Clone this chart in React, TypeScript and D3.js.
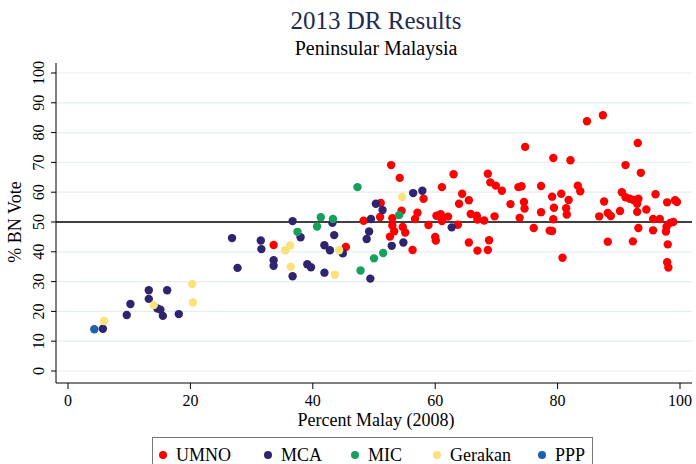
import React from "react";
import * as d3 from "d3";

type P = [number, number];

const umno: P[] = [
  [33.6, 42.3], [45.4, 41.6], [48.3, 50.4], [51.1, 56.4], [51.0, 51.7], [52.8, 69.1],
  [54.2, 64.8], [54.5, 53.8], [53.0, 51.3], [53.0, 48.8], [53.3, 46.9], [52.6, 45.1],
  [54.7, 48.3], [55.1, 46.5], [56.3, 40.6], [56.7, 51.0], [57.1, 53.1], [58.1, 57.8],
  [58.9, 49.0], [60.0, 45.0], [60.1, 43.8], [60.2, 52.1], [60.9, 52.6], [61.1, 50.3],
  [62.1, 51.8], [61.1, 61.7], [63.0, 66.0], [63.7, 49.1], [63.9, 56.1], [64.4, 59.5],
  [65.5, 57.3], [65.8, 52.7], [66.8, 52.1], [66.9, 50.8], [68.0, 50.5], [65.5, 43.1],
  [66.9, 40.4], [68.6, 40.6], [68.8, 43.9], [69.7, 51.9], [68.6, 66.2], [69.0, 63.3],
  [69.9, 62.2], [70.9, 60.5], [72.3, 56.0], [73.6, 61.7], [74.1, 62.0], [74.5, 56.7],
  [74.6, 54.5], [73.8, 51.4], [74.7, 75.2], [76.1, 48.0], [77.3, 62.1], [77.3, 53.3],
  [78.7, 47.1], [79.1, 47.0], [79.3, 71.5], [79.1, 58.5], [79.4, 54.8], [79.3, 50.9],
  [80.6, 59.5], [80.8, 38.0], [81.4, 54.6], [81.5, 52.5], [81.8, 57.4], [82.1, 70.7],
  [83.3, 62.2], [83.7, 60.3], [84.8, 83.8], [87.4, 85.8], [86.8, 51.9], [87.6, 56.9],
  [88.2, 53.0], [88.7, 52.0], [88.2, 43.4], [90.2, 53.7], [90.5, 60.0], [91.1, 69.1],
  [91.1, 58.3], [91.8, 57.8], [92.4, 57.4], [93.2, 57.8], [93.0, 56.1], [93.0, 53.4],
  [93.1, 76.5], [93.6, 66.5], [93.2, 48.0], [92.3, 43.5], [94.5, 54.2], [96.0, 59.3],
  [95.6, 51.0], [96.7, 51.0], [95.6, 47.2], [97.9, 56.6], [99.2, 57.3], [99.5, 56.7],
  [97.8, 48.4], [98.4, 49.7], [98.9, 50.0], [97.7, 46.8], [98.0, 42.5], [97.9, 36.5],
  [98.1, 34.7],
];

const mca: P[] = [
  [5.7, 14.2], [9.6, 18.8], [10.2, 22.5], [13.2, 27.1], [13.2, 24.2], [14.6, 21.0],
  [15.1, 20.6], [15.5, 18.5], [16.2, 27.1], [18.1, 19.1], [26.8, 44.6], [27.7, 34.6],
  [31.5, 43.8], [31.6, 40.9], [33.6, 37.2], [33.6, 35.3], [36.7, 50.3], [36.7, 31.8],
  [38.0, 44.9], [39.1, 35.8], [39.7, 34.8], [41.9, 33.0], [41.9, 42.2], [42.8, 40.5],
  [43.2, 49.7], [43.5, 45.6], [44.9, 39.5], [49.4, 31.0], [48.8, 44.3], [49.2, 46.8],
  [49.5, 51.0], [50.3, 56.1], [51.4, 54.0], [52.9, 42.0], [54.8, 43.1], [56.4, 59.7],
  [57.9, 60.5], [62.7, 48.2],
];

const mic: P[] = [
  [37.5, 46.7], [40.7, 48.5], [41.3, 51.6], [43.3, 51.0], [47.3, 61.7], [47.8, 33.7],
  [50.0, 37.8], [51.5, 39.6], [54.1, 52.3],
];

const gerakan: P[] = [
  [5.9, 16.8], [14.0, 22.1], [20.3, 29.2], [20.4, 23.0], [35.5, 40.5], [36.3, 42.1],
  [36.4, 35.0], [43.6, 32.3], [44.3, 40.5], [54.6, 58.4],
];

const ppp: P[] = [[4.3, 14.0]];

const seriesNames = ["UMNO", "MCA", "MIC", "Gerakan", "PPP"];
const seriesData = [umno, mca, mic, gerakan, ppp];
const seriesColors = ["#ff0000", "#2e2470", "#16a05c", "#fde27c", "#1c62ad"];

const xTicks = [0, 20, 40, 60, 80, 100];
const yTicks = [0, 10, 20, 30, 40, 50, 60, 70, 80, 90, 100];

const W = 696;
const H = 464;
const FONT = "'Liberation Serif', 'Times New Roman', serif";

export default function App() {
  const x = d3.scaleLinear().domain([0, 100]).range([68, 680]);
  const y = d3.scaleLinear().domain([0, 100]).range([371, 73]);
  const plotL = 56, plotR = 692, plotT = 63, plotB = 383;
  const legendX = [163, 268, 355, 437, 542];
  const cx = 376;

  return (
    <svg width={W} height={H} style={{ position: "absolute", left: 0, top: 0, background: "#fff" }}>
      <rect x={0} y={0} width={W} height={H} fill="#fff" />
      {yTicks.filter((t) => t !== 50).map((t) => (
        <line key={"g" + t} x1={plotL} x2={plotR} y1={y(t)} y2={y(t)} stroke="#e6eef0" strokeWidth={1.2} />
      ))}
      <line x1={plotL} x2={plotR} y1={y(50)} y2={y(50)} stroke="#000" strokeWidth={1.3} />
      {seriesData.map((s, i) =>
        s.map((d, j) => (
          <circle key={i + "-" + j} cx={x(d[0])} cy={y(d[1])} r={4.2} fill={seriesColors[i]} />
        ))
      )}
      <line x1={plotL} x2={plotL} y1={plotT} y2={plotB} stroke="#000" strokeWidth={1} />
      <line x1={plotL} x2={plotR} y1={plotB} y2={plotB} stroke="#000" strokeWidth={1} />
      {yTicks.map((t) => (
        <g key={"yt" + t}>
          <line x1={plotL - 5} x2={plotL} y1={y(t)} y2={y(t)} stroke="#000" />
          <text
            transform={`translate(${44},${y(t)}) rotate(-90)`}
            textAnchor="middle"
            fontFamily={FONT}
            fontSize={16}
            fill="#000"
          >
            {t}
          </text>
        </g>
      ))}
      {xTicks.map((t) => (
        <g key={"xt" + t}>
          <line x1={x(t)} x2={x(t)} y1={plotB} y2={plotB + 6} stroke="#000" />
          <text x={x(t)} y={406} textAnchor="middle" fontFamily={FONT} fontSize={16} fill="#000">
            {t}
          </text>
        </g>
      ))}
      <text x={cx} y={426} textAnchor="middle" fontFamily={FONT} fontSize={18} fill="#000">
        Percent Malay (2008)
      </text>
      <text
        transform={`translate(${21},${222}) rotate(-90)`}
        textAnchor="middle"
        fontFamily={FONT}
        fontSize={18}
        fill="#000"
      >
        % BN Vote
      </text>
      <text x={cx} y={29} textAnchor="middle" fontFamily={FONT} fontSize={25} fill="#1c2b52">
        2013 DR Results
      </text>
      <text x={cx} y={55} textAnchor="middle" fontFamily={FONT} fontSize={20} fill="#000">
        Peninsular Malaysia
      </text>
      <rect x={152.5} y={437.5} width={440} height={40} fill="#fff" stroke="#777" strokeWidth={1} />
      {seriesNames.map((n, i) => (
        <g key={"lg" + n}>
          <circle cx={legendX[i]} cy={455} r={4} fill={seriesColors[i]} />
          <text x={legendX[i] + 13} y={461} fontFamily={FONT} fontSize={18} fill="#000">
            {n}
          </text>
        </g>
      ))}
    </svg>
  );
}
